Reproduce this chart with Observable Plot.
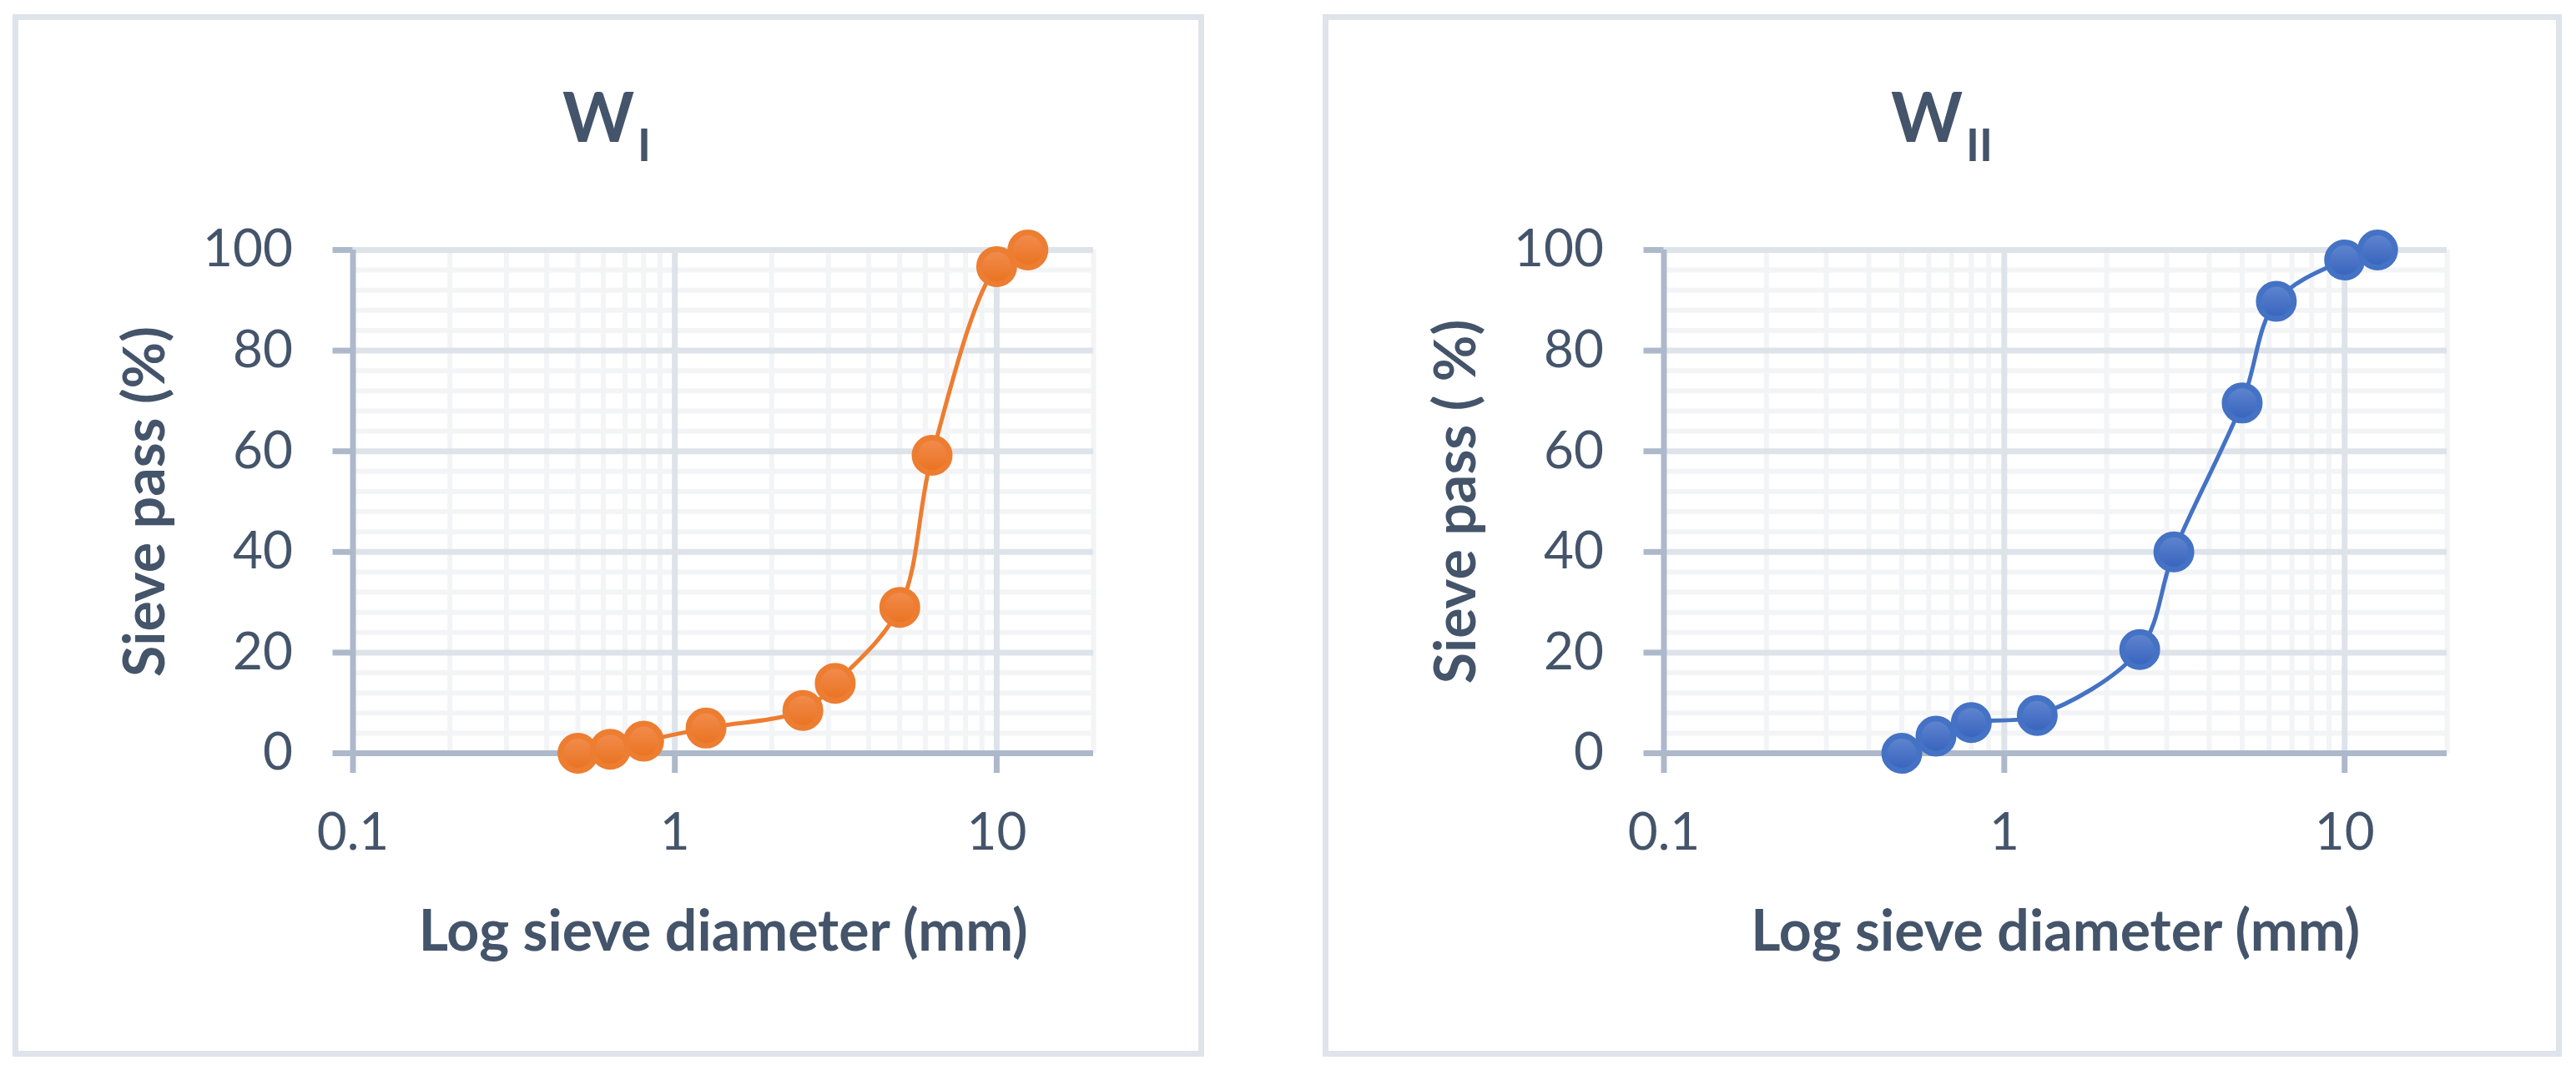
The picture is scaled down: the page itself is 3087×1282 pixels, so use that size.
<!DOCTYPE html>
<html>
<head>
<meta charset="utf-8">
<script src="https://cdn.jsdelivr.net/npm/d3@7"></script>
<script src="https://cdn.jsdelivr.net/npm/@observablehq/plot@0.6"></script>
<style>
  body { margin: 0; background: #fff; width: 3087px; height: 1282px; position: relative; overflow: hidden; font-family: Lato, sans-serif; }
  .panel { position: absolute; border: 7px solid #dfe3ea; box-sizing: border-box; }
  .title { position: absolute; font-weight: bold; font-size: 82px; color: #44546a; line-height: 1; white-space: nowrap; transform: translateX(-50%); }
  .title sub { font-size: 54px; vertical-align: baseline; position: relative; top: 23px; margin-left: 4px; }
  svg.chart { position: absolute; top: 0; }
</style>
</head>
<body>
<div class="panel" style="left:15px;top:17px;width:1428px;height:1249px;"></div>
<div class="panel" style="left:1585px;top:17px;width:1485px;height:1249px;"></div>
<script>
// ---- data ----
const sieveSizes = [0.5, 0.63, 0.8, 1.25, 2.5, 3.15, 5, 6.3, 10, 12.5];
const passW1 = [0, 0.8, 2.4, 5.0, 8.5, 13.9, 29.0, 59.2, 96.7, 100];
const passW2 = [0, 3.4, 6.1, 7.5, 20.6, 40.0, 69.6, 89.8, 98.0, 100];
const xTicks = [0.1, 1, 10];
const yTicks = [0, 20, 40, 60, 80, 100];
const xMinorTicks = [0.2, 0.3, 0.4, 0.5, 0.6, 0.7, 0.8, 0.9, 2, 3, 4, 5, 6, 7, 8, 9, 20];
const yMinorTicks = [4, 8, 12, 16, 24, 28, 32, 36, 44, 48, 52, 56, 64, 68, 72, 76, 84, 88, 92, 96];
const xMajorGrid = [1, 10];
const yMajorGrid = [20, 40, 60, 80, 100];
const xLabel = "Log sieve diameter (mm)";
const yLabels = ["Sieve pass (%)", "Sieve pass ( %)"];
const titleMain = "W";
const titleSubs = ["I", "II"];

const textColor = "#44546a";
const axisColor = "#adb9ca";
const majorGrid = "#dee3ea";
const minorGrid = "#f2f4f6";

function makeChart({values, color, gradId, gradTop, gradBottom, yLabel, left, width, marginLeft, marginRight}) {
  const data = sieveSizes.map((d, i) => ({size: d, pass: values[i]}));
  const svg = Plot.plot({
    width, height: 1282,
    marginLeft, marginRight, marginTop: 299, marginBottom: 380,
    x: {type: "log", domain: [0.1, 20]},
    y: {domain: [0, 100]},
    style: {fontFamily: "Lato, sans-serif", background: "transparent", color: textColor},
    marks: [
      Plot.gridX(xMinorTicks, {stroke: minorGrid, strokeOpacity: 1, strokeWidth: 6}),
      Plot.gridY(yMinorTicks, {stroke: minorGrid, strokeOpacity: 1, strokeWidth: 6}),
      Plot.gridX(xMajorGrid, {stroke: majorGrid, strokeOpacity: 1, strokeWidth: 7}),
      Plot.gridY(yMajorGrid, {stroke: majorGrid, strokeOpacity: 1, strokeWidth: 7}),
      Plot.ruleX([0.1], {stroke: axisColor, strokeWidth: 7}),
      Plot.ruleY([0], {stroke: axisColor, strokeWidth: 7}),
      Plot.axisX(xTicks, {tickSize: 24, tickPadding: 47, stroke: axisColor, strokeWidth: 7, fill: textColor, fontSize: 62, tickFormat: d => String(d), label: null}),
      Plot.axisY(yTicks, {tickSize: 24, tickPadding: 48, stroke: axisColor, strokeWidth: 7, fill: textColor, fontSize: 62, tickFormat: d => String(d), label: null}),
      Plot.text([xLabel], {text: d => d, frameAnchor: "bottom", textAnchor: "middle", lineAnchor: "middle", dy: 215, fontSize: 68, fontWeight: "bold", fill: textColor}),
      Plot.text([yLabel], {text: d => d, frameAnchor: "left", textAnchor: "middle", lineAnchor: "middle", dx: -248, rotate: -90, fontSize: 68, fontWeight: "bold", fill: textColor}),
      Plot.line(data, {x: "size", y: "pass", curve: "catmull-rom", stroke: color, strokeWidth: 5}),
      Plot.dot(data, {x: "size", y: "pass", r: 21, fill: `url(#${gradId})`, stroke: color, strokeWidth: 7})
    ]
  });
  svg.classList.add("chart");
  svg.style.left = left + "px";
  const ns = "http://www.w3.org/2000/svg";
  const defs = document.createElementNS(ns, "defs");
  const grad = document.createElementNS(ns, "linearGradient");
  grad.setAttribute("id", gradId);
  grad.setAttribute("x1", "0"); grad.setAttribute("y1", "0");
  grad.setAttribute("x2", "0"); grad.setAttribute("y2", "1");
  [[0, gradTop], [1, gradBottom]].forEach(([o, c]) => {
    const s = document.createElementNS(ns, "stop");
    s.setAttribute("offset", o);
    s.setAttribute("stop-color", c);
    grad.appendChild(s);
  });
  defs.appendChild(grad);
  svg.insertBefore(defs, svg.firstChild);
  document.body.appendChild(svg);
}

makeChart({values: passW1, color: "#ed7d31", gradId: "gradO", gradTop: "#f28d50", gradBottom: "#e9721e",
  yLabel: yLabels[0], left: 0, width: 1460, marginLeft: 422.5, marginRight: 150});
makeChart({values: passW2, color: "#4472c4", gradId: "gradB", gradTop: "#6287d0", gradBottom: "#3662bd",
  yLabel: yLabels[1], left: 1540, width: 1540, marginLeft: 453.5, marginRight: 148});

function addTitle(sub, cx) {
  const t = document.createElement("div");
  t.className = "title";
  t.style.left = cx + "px";
  t.style.top = "97px";
  t.textContent = titleMain;
  const s = document.createElement("sub");
  s.textContent = sub;
  t.appendChild(s);
  document.body.appendChild(t);
}
addTitle(titleSubs[0], 727);
addTitle(titleSubs[1], 2327);
</script>
</body>
</html>
